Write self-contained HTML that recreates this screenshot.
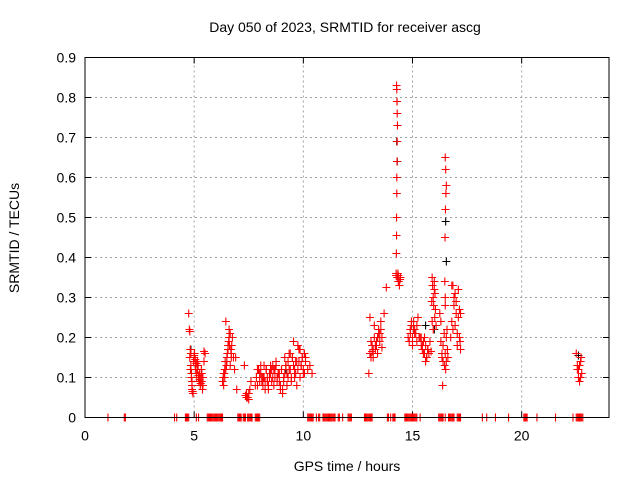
<!DOCTYPE html>
<html><head><meta charset="utf-8"><style>
html,body{margin:0;padding:0;background:#fff}
svg{display:block;font-family:"Liberation Sans",Arial,sans-serif}
</style></head><body>
<svg id="chart" width="640" height="480" viewBox="0 0 640 480">
<rect width="640" height="480" fill="#fff"/>
<text x="345" y="32" font-size="14" text-anchor="middle" fill="#000">Day 050 of 2023, SRMTID for receiver ascg</text>
<text x="347" y="471" font-size="14" text-anchor="middle" fill="#000">GPS time / hours</text>
<text transform="translate(19,238) rotate(-90)" font-size="14" text-anchor="middle" fill="#000">SRMTID / TECUs</text>
<g id="grid"></g>
<g id="ticks"></g>
<g id="marks"></g>
<rect x="85" y="57.5" width="524" height="360" fill="none" stroke="#000" stroke-width="1"/>
</svg>
<script>
const xTicks=[0,5,10,15,20];
const yTicks=[0,0.1,0.2,0.3,0.4,0.5,0.6,0.7,0.8,0.9];
const yTickLabels=["0","0.1","0.2","0.3","0.4","0.5","0.6","0.7","0.8","0.9"];
const redT=[4.75,4.78,4.8,4.82,4.85,4.85,4.88,4.9,4.9,4.92,4.95,4.8,4.83,4.87,4.9,4.93,4.97,5.0,5.02,5.05,5.07,5.1,5.12,5.15,5.18,5.2,5.22,5.25,5.28,5.3,5.33,5.35,5.38,5.4,5.45,5.5,5.0,5.05,5.1,5.15,5.2,5.25,5.3,5.35,5.4,5.45,
6.3,6.33,6.35,6.38,6.4,6.42,6.45,6.48,6.5,6.52,6.55,6.58,6.6,6.62,6.65,6.68,6.7,6.72,6.75,6.8,6.85,6.9,6.4,6.5,6.6,6.7,6.55,6.65,6.45,6.35,6.95,
7.3,7.35,7.4,7.45,7.5,7.55,7.6,7.4,7.5,
7.8,7.85,7.9,7.95,8.0,8.05,8.1,8.15,8.2,8.25,8.3,8.35,8.4,8.45,8.5,8.55,8.6,8.65,8.7,8.75,8.8,8.85,8.9,8.95,9.0,9.05,9.1,9.15,9.2,9.25,9.3,9.35,9.4,9.45,9.5,9.55,9.6,9.65,9.7,9.75,9.8,9.85,9.9,9.95,10.0,10.05,10.1,10.2,10.3,10.4,
7.9,8.0,8.1,8.2,8.3,8.4,8.5,8.6,8.7,8.8,8.9,9.0,9.1,9.2,9.3,9.4,9.5,9.6,9.7,9.8,9.9,10.0,10.1,8.05,8.25,8.45,8.65,8.85,9.05,9.25,9.45,9.65,9.85,10.05,8.15,8.35,8.55,8.75,8.95,9.15,9.35,9.55,9.75,9.95,
13.0,13.05,13.1,13.15,13.2,13.25,13.3,13.35,13.4,13.45,13.5,13.55,13.6,13.1,13.2,13.3,13.4,13.5,13.25,13.35,13.45,13.55,13.05,13.15,13.6,13.7,
14.25,14.27,14.28,14.29,14.3,14.31,14.3,14.29,14.28,14.28,14.27,14.27,14.26,14.25,14.3,14.35,14.4,14.45,14.33,14.37,14.43,14.35,13.8,
14.8,14.85,14.9,14.95,15.0,15.05,15.1,15.15,15.2,15.25,15.3,14.9,15.0,15.1,15.2,14.95,15.05,
15.35,15.4,15.45,15.5,15.55,15.6,15.65,15.7,15.75,15.8,15.4,15.5,15.6,15.7,15.45,15.55,15.65,
15.85,15.9,15.92,15.95,15.97,16.0,16.02,16.05,15.9,15.95,16.0,15.88,16.03,16.08,
16.25,16.3,16.35,16.4,16.47,16.5,16.52,16.55,16.53,16.51,16.49,16.48,16.5,16.5,16.55,16.6,16.35,16.4,16.45,16.5,16.55,16.3,16.38,16.52,16.58,16.62,
16.75,16.8,16.85,16.9,16.95,17.0,16.8,16.9,17.0,17.1,17.15,17.2,17.05,17.1,17.15,17.2,16.85,16.95,17.05,17.18,
22.5,22.55,22.6,22.65,22.7,22.75,22.6,22.65,22.7,22.55,22.72];
const redV=[0.26,0.22,0.215,0.17,0.16,0.13,0.11,0.09,0.07,0.065,0.06,0.15,0.12,0.1,0.08,0.065,0.14,0.15,0.16,0.13,0.12,0.11,0.1,0.14,0.13,0.1,0.09,0.11,0.08,0.1,0.12,0.09,0.07,0.1,0.14,0.16,0.155,0.145,0.135,0.12,0.105,0.095,0.085,0.11,0.08,0.165,
0.09,0.1,0.08,0.11,0.12,0.14,0.12,0.13,0.15,0.16,0.17,0.19,0.2,0.18,0.21,0.17,0.15,0.18,0.2,0.15,0.12,0.15,0.1,0.14,0.22,0.16,0.18,0.13,0.24,0.11,0.07,0.13,
0.055,0.06,0.05,0.045,0.07,0.09,0.05,0.06,0.08,
0.1,0.08,0.12,0.09,0.11,0.1,0.08,0.13,0.09,0.12,0.1,0.07,0.11,0.13,0.09,0.1,0.08,0.12,0.14,0.1,0.11,0.09,0.08,0.12,0.07,0.1,0.15,0.13,0.11,0.14,0.16,0.12,0.09,0.15,0.13,0.1,0.11,0.14,0.12,0.17,0.1,0.13,0.15,0.12,0.11,0.14,0.12,0.13,0.11,0.12,
0.11,0.09,0.1,0.12,0.08,0.11,0.13,0.1,0.09,0.11,0.12,0.09,0.13,0.1,0.16,0.15,0.12,0.08,0.14,0.13,0.11,0.15,0.13,0.07,0.1,0.12,0.11,0.06,0.08,0.1,0.14,0.17,0.16,0.1,0.09,0.12,0.13,0.07,0.11,0.12,0.19,0.18,0.15,0.11,
0.16,0.15,0.18,0.17,0.2,0.18,0.19,0.2,0.22,0.21,0.24,0.2,0.19,0.15,0.17,0.16,0.19,0.23,0.18,0.21,0.22,0.25,0.165,0.175,0.26,0.355,
0.83,0.82,0.79,0.76,0.73,0.69,0.64,0.6,0.56,0.5,0.455,0.41,0.36,0.35,0.34,0.33,0.35,0.36,0.34,0.345,0.355,0.325,0.2,
0.19,0.21,0.23,0.2,0.24,0.22,0.21,0.23,0.25,0.2,0.22,0.18,0.21,0.19,0.24,0.22,0.2,
0.18,0.17,0.19,0.16,0.18,0.15,0.17,0.16,0.19,0.2,0.16,0.14,0.17,0.18,0.2,0.15,0.165,
0.35,0.33,0.3,0.28,0.32,0.25,0.27,0.24,0.22,0.34,0.29,0.31,0.23,0.26,
0.19,0.16,0.14,0.13,0.65,0.62,0.58,0.56,0.52,0.45,0.34,0.28,0.3,0.2,0.17,0.15,0.18,0.21,0.16,0.14,0.24,0.08,0.12,0.22,0.15,0.2,
0.24,0.22,0.28,0.31,0.26,0.33,0.3,0.29,0.25,0.2,0.17,0.18,0.32,0.27,0.26,0.33,0.23,0.21,0.19,0.16,
0.12,0.1,0.13,0.14,0.11,0.12,0.09,0.1,0.13,0.15,0.115];
const blackT=[14.29,14.3,14.28,4.85,9.2,16.52,16.55,15.6,22.6,13.4,16.0];
const blackV=[0.79,0.64,0.69,0.17,0.12,0.49,0.39,0.23,0.155,0.2,0.22];
const zeroT=[1.05,1.8,1.85,4.1,4.2,4.6,4.65,4.7,4.75,5.1,5.2,5.6,5.65,5.7,5.75,5.8,5.85,5.9,5.95,6.0,6.05,6.1,6.15,6.2,6.25,6.3,7.0,7.05,7.1,7.15,7.25,7.3,7.35,7.45,7.5,7.55,7.6,7.65,7.8,7.85,7.9,7.95,8.0,10.2,10.25,10.3,10.35,10.4,10.45,10.6,10.7,10.75,10.9,10.95,11.0,11.05,11.1,11.15,11.2,11.25,11.3,11.35,11.4,11.45,11.6,11.65,11.8,12.05,12.1,12.15,12.2,12.8,12.85,12.9,12.95,13.0,13.05,13.1,13.15,13.85,13.9,14.0,14.1,14.15,14.2,14.65,14.7,14.75,14.8,14.85,14.9,14.95,15.0,15.05,15.1,15.15,15.2,15.35,16.2,16.25,16.3,16.35,16.4,16.5,16.65,16.7,16.75,16.8,16.85,16.9,17.05,17.1,17.15,17.2,18.2,18.4,18.8,19.4,20.1,20.15,20.2,20.25,20.7,21.55,22.35,22.5,22.55,22.6,22.65,22.7,22.75,22.8];
const NS="http://www.w3.org/2000/svg";
const X0=85,X1=609,Y0=417.5,Y1=57.5,XMAX=24,YMAX=0.9;
function sx(t){return X0+(t/XMAX)*(X1-X0);}
function sy(v){return Y0-(v/YMAX)*(Y0-Y1);}
function mk(tag,attrs,parent){const e=document.createElementNS(NS,tag);for(const k in attrs)e.setAttribute(k,attrs[k]);parent.appendChild(e);return e;}
const grid=document.getElementById('grid'),ticks=document.getElementById('ticks'),marks=document.getElementById('marks');
xTicks.forEach((t,i)=>{
  const x=sx(t);
  if(t>0){const g=mk('line',{x1:x,x2:x,y1:Y0,y2:Y1,stroke:'#a0a0a0','stroke-dasharray':'2,3'},grid);
  
  }
  mk('line',{x1:x,x2:x,y1:Y0,y2:Y0-6,stroke:'#000'},ticks);
  mk('line',{x1:x,x2:x,y1:Y1,y2:Y1+6,stroke:'#000'},ticks);
  const l=mk('text',{x:x,y:Y0+23,'font-size':14,'text-anchor':'middle',fill:'#000'},ticks);
  l.textContent=String(t);
  
  
});
yTicks.forEach((v,i)=>{
  const y=sy(v);
  if(v>0&&v<YMAX){const g=mk('line',{x1:X0,x2:X1,y1:y,y2:y,stroke:'#a0a0a0','stroke-dasharray':'2,3'},grid);
  
  }
  mk('line',{x1:X0,x2:X0+6,y1:y,y2:y,stroke:'#000'},ticks);
  mk('line',{x1:X1,x2:X1-6,y1:y,y2:y,stroke:'#000'},ticks);
  const l=mk('text',{x:X0-9,y:y+5,'font-size':14,'text-anchor':'end',fill:'#000'},ticks);
  l.textContent=yTickLabels[i];
  
  
});
function cross(t,v,color,name){
  const x=sx(t),y=sy(v);
  const p=mk('path',{d:`M${x-4},${y}h8M${x},${y-4}v8`,stroke:color,'stroke-width':1.1,fill:'none'},marks);
  
  
}
zeroT.forEach(t=>cross(t,0,'#ff0000','zero-point'));
blackT.forEach((t,i)=>cross(t,blackV[i],'#000000','black-point'));
redT.forEach((t,i)=>cross(t,redV[i],'#ff0000','srmtid-point'));
</script>
</body></html>
